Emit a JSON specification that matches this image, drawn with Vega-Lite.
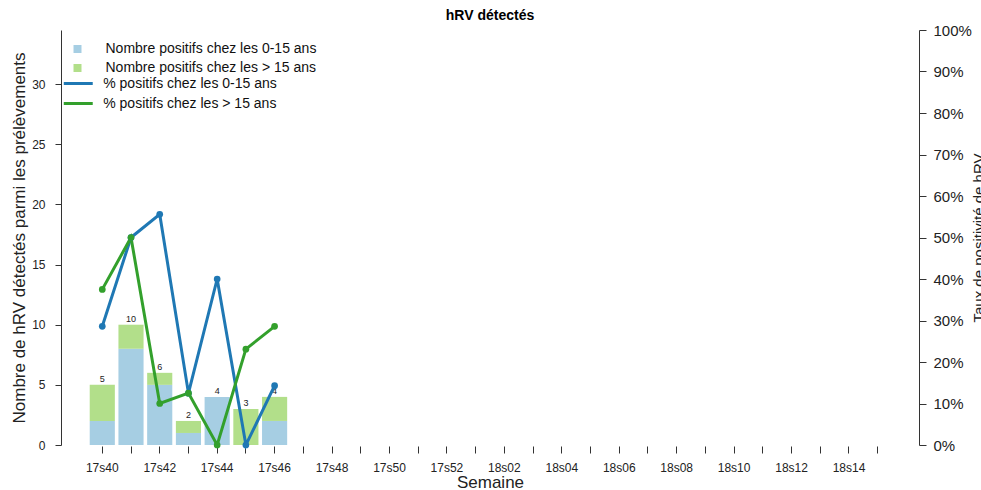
{
  "$schema": "https://vega.github.io/schema/vega-lite/v6.json",
  "width": 858,
  "height": 415,
  "autosize": {"type": "none"},
  "padding": {"left": 61, "top": 30, "right": 62, "bottom": 45},
  "background": "white",
  "title": {"text": "hRV détectés", "fontSize": 14, "fontWeight": "bold", "font": "Liberation Sans", "color": "#000", "offset": 0, "anchor": "middle"},
  "config": {
    "font": "Liberation Sans",
    "view": {"stroke": null},
    "axis": {"grid": false, "labelColor": "#222", "titleColor": "#222", "domainColor": "#333", "tickColor": "#333", "titleFontWeight": "normal", "labelFont": "Liberation Sans", "titleFont": "Liberation Sans"},
    "legend": {"labelFont": "Liberation Sans", "labelColor": "#111", "labelLimit": 0}
  },
  "datasets": {
    "barres": [
      {"semaine": "17s40", "groupe": "Nombre positifs chez les 0-15 ans", "nombre": 2},
      {"semaine": "17s40", "groupe": "Nombre positifs chez les > 15 ans", "nombre": 3},
      {"semaine": "17s41", "groupe": "Nombre positifs chez les 0-15 ans", "nombre": 8},
      {"semaine": "17s41", "groupe": "Nombre positifs chez les > 15 ans", "nombre": 2},
      {"semaine": "17s42", "groupe": "Nombre positifs chez les 0-15 ans", "nombre": 5},
      {"semaine": "17s42", "groupe": "Nombre positifs chez les > 15 ans", "nombre": 1},
      {"semaine": "17s43", "groupe": "Nombre positifs chez les 0-15 ans", "nombre": 1},
      {"semaine": "17s43", "groupe": "Nombre positifs chez les > 15 ans", "nombre": 1},
      {"semaine": "17s44", "groupe": "Nombre positifs chez les 0-15 ans", "nombre": 4},
      {"semaine": "17s44", "groupe": "Nombre positifs chez les > 15 ans", "nombre": 0},
      {"semaine": "17s45", "groupe": "Nombre positifs chez les 0-15 ans", "nombre": 0},
      {"semaine": "17s45", "groupe": "Nombre positifs chez les > 15 ans", "nombre": 3},
      {"semaine": "17s46", "groupe": "Nombre positifs chez les 0-15 ans", "nombre": 2},
      {"semaine": "17s46", "groupe": "Nombre positifs chez les > 15 ans", "nombre": 2}
    ],
    "totaux": [
      {"semaine": "17s40", "total": 5},
      {"semaine": "17s41", "total": 10},
      {"semaine": "17s42", "total": 6},
      {"semaine": "17s43", "total": 2},
      {"semaine": "17s44", "total": 4},
      {"semaine": "17s45", "total": 3},
      {"semaine": "17s46", "total": 4}
    ],
    "taux": [
      {"semaine": "17s40", "groupe": "% positifs chez les 0-15 ans", "taux": 0.286},
      {"semaine": "17s41", "groupe": "% positifs chez les 0-15 ans", "taux": 0.5},
      {"semaine": "17s42", "groupe": "% positifs chez les 0-15 ans", "taux": 0.556},
      {"semaine": "17s43", "groupe": "% positifs chez les 0-15 ans", "taux": 0.125},
      {"semaine": "17s44", "groupe": "% positifs chez les 0-15 ans", "taux": 0.4},
      {"semaine": "17s45", "groupe": "% positifs chez les 0-15 ans", "taux": 0.0},
      {"semaine": "17s46", "groupe": "% positifs chez les 0-15 ans", "taux": 0.143},
      {"semaine": "17s40", "groupe": "% positifs chez les > 15 ans", "taux": 0.375},
      {"semaine": "17s41", "groupe": "% positifs chez les > 15 ans", "taux": 0.5},
      {"semaine": "17s42", "groupe": "% positifs chez les > 15 ans", "taux": 0.1},
      {"semaine": "17s43", "groupe": "% positifs chez les > 15 ans", "taux": 0.125},
      {"semaine": "17s44", "groupe": "% positifs chez les > 15 ans", "taux": 0.0},
      {"semaine": "17s45", "groupe": "% positifs chez les > 15 ans", "taux": 0.231},
      {"semaine": "17s46", "groupe": "% positifs chez les > 15 ans", "taux": 0.286}
    ]
  },
  "layer": [
    {
      "layer": [
        {
          "data": {"name": "barres"},
          "mark": {"type": "bar"},
          "encoding": {
            "x": {
              "field": "semaine", "type": "nominal",
              "scale": {"type": "band", "paddingInner": 0.125, "paddingOuter": 1.1,
                "domain": ["17s40","17s41","17s42","17s43","17s44","17s45","17s46","17s47","17s48","17s49","17s50","17s51","17s52","18s01","18s02","18s03","18s04","18s05","18s06","18s07","18s08","18s09","18s10","18s11","18s12","18s13","18s14","18s15"]},
              "axis": {"title": "Semaine", "titleFontSize": 17, "titlePadding": 1, "domain": false, "tickSize": 7, "labelAngle": 0, "labelFontSize": 12, "labelPadding": 9, "offset": 1,
                "labelExpr": "toNumber(substring(datum.value, 3, 5)) % 2 == 0 ? datum.value : ''"}
            },
            "y": {
              "field": "nombre", "type": "quantitative", "stack": "zero",
              "scale": {"domain": [0, 34.5], "nice": false, "zero": true},
              "axis": {"title": "Nombre de hRV détectés parmi les prélèvements", "titleFontSize": 17, "titlePadding": 3, "values": [0, 5, 10, 15, 20, 25, 30], "tickSize": 6, "labelPadding": 10, "labelFontSize": 12}
            },
            "fill": {
              "field": "groupe", "type": "nominal",
              "scale": {"domain": ["Nombre positifs chez les 0-15 ans", "Nombre positifs chez les > 15 ans"], "range": ["#A6CEE3", "#B2DF8A"]},
              "legend": {"title": null, "orient": "none", "legendX": 9.5, "legendY": 12, "symbolType": "square", "symbolSize": 64, "symbolStrokeWidth": 0, "labelFontSize": 14, "labelOffset": 21, "rowPadding": 5, "padding": 0}
            },
            "order": {"field": "groupe", "sort": "ascending"}
          }
        },
        {
          "data": {"name": "totaux"},
          "mark": {"type": "text", "fontSize": 9, "baseline": "alphabetic", "dy": -3, "color": "#222"},
          "encoding": {
            "x": {"field": "semaine", "type": "nominal"},
            "y": {"field": "total", "type": "quantitative"},
            "text": {"field": "total", "type": "quantitative"}
          }
        },
        {
          "mark": {"type": "rule", "color": "#333", "strokeWidth": 1},
          "encoding": {
            "x": {"datum": "17s40", "type": "nominal"},
            "x2": {"datum": "18s15"},
            "y": {"datum": 0, "type": "quantitative"}
          }
        }
      ]
    },
    {
      "data": {"name": "taux"},
      "mark": {"type": "line", "strokeWidth": 3, "point": {"filled": true, "size": 45}},
      "encoding": {
        "x": {"field": "semaine", "type": "nominal"},
        "y": {
          "field": "taux", "type": "quantitative",
          "scale": {"domain": [0, 1], "nice": false},
          "axis": {"orient": "right", "title": "Taux de positivité de hRV", "titleAngle": 270, "titleFontSize": 15, "titlePadding": 15, "values": [0, 0.1, 0.2, 0.3, 0.4, 0.5, 0.6, 0.7, 0.8, 0.9, 1], "format": ".0%", "tickSize": 7, "labelPadding": 7, "labelFontSize": 15}
        },
        "color": {
          "field": "groupe", "type": "nominal",
          "scale": {"domain": ["% positifs chez les 0-15 ans", "% positifs chez les > 15 ans"], "range": ["#1F78B4", "#33A02C"]},
          "legend": {"title": null, "orient": "none", "legendX": 8.25, "legendY": 44.5, "symbolType": "M-2,0H2", "symbolSize": 210, "symbolStrokeWidth": 3, "symbolFillColor": "transparent", "labelFontSize": 14, "labelOffset": 16, "rowPadding": 4, "padding": 0}
        }
      }
    }
  ],
  "resolve": {"scale": {"y": "independent"}, "axis": {"y": "independent"}}
}
